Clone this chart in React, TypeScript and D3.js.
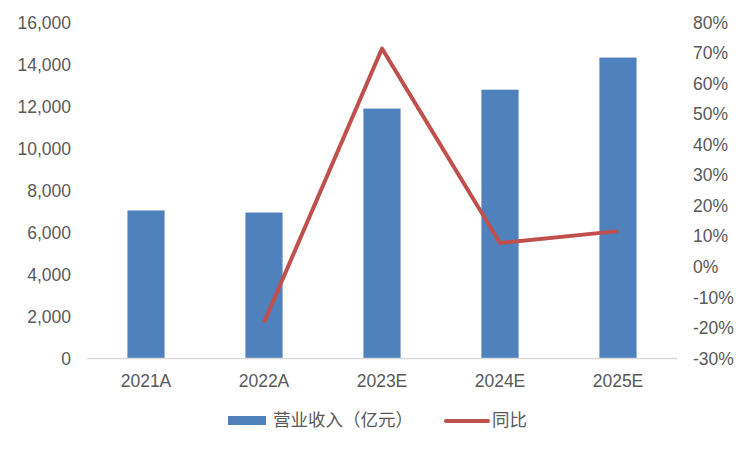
import React from "react";
import * as d3 from "d3";

const categories = ["2021A", "2022A", "2023E", "2024E", "2025E"];
const revenue = [7050, 6950, 11900, 12800, 14330];
const growth: (number | null)[] = [null, -18.2, 71.5, 7.8, 11.7];
const leftTicks = [0, 2000, 4000, 6000, 8000, 10000, 12000, 14000, 16000];
const rightTicks = [-30, -20, -10, 0, 10, 20, 30, 40, 50, 60, 70, 80];
const legendLabels = ["营业收入（亿元）", "同比"];

export default function App() {
  const W = 750, H = 450;
  const left = 87, right = 677, top = 22.5, bottom = 358.5;
  const fs = 17.5;
  const x = d3.scaleBand<string>().domain(categories).range([left, right]).paddingInner(0.685).paddingOuter(0.3425);
  const yL = d3.scaleLinear().domain([0, 16000]).range([bottom, top]);
  const yR = d3.scaleLinear().domain([-30, 80]).range([bottom, top]);
  const fmt = d3.format(",");
  const pts = categories
    .map((c, i) => ({ c, v: growth[i] }))
    .filter((d) => d.v !== null) as { c: string; v: number }[];
  const line = d3
    .line<{ c: string; v: number }>()
    .x((d) => (x(d.c) as number) + x.bandwidth() / 2)
    .y((d) => yR(d.v));
  const font = "'Liberation Sans', Arial, sans-serif";
  const cjk = "'Noto Sans CJK SC', sans-serif";
  return (
    <svg width={W} height={H} style={{ position: "absolute", left: 0, top: 0 }} fontFamily={font}>
      <rect width={W} height={H} fill="#fff" />
      {categories.map((c, i) => (
        <rect key={c} x={x(c)} y={yL(revenue[i])} width={x.bandwidth()} height={bottom - yL(revenue[i])} fill="#4F81BD" />
      ))}
      <line x1={left} x2={right} y1={bottom} y2={bottom} stroke="#D9D9D9" strokeWidth={1.5} />
      <path d={line(pts) || ""} fill="none" stroke="#C0504D" strokeWidth={4} strokeLinejoin="round" />
      {leftTicks.map((t) => (
        <text key={t} x={71} y={yL(t)} dy="0.35em" textAnchor="end" fontSize={fs} fill="#595959">
          {fmt(t)}
        </text>
      ))}
      {rightTicks.map((t) => (
        <text key={t} x={693} y={yR(t)} dy="0.35em" textAnchor="start" fontSize={fs} fill="#595959">
          {t + "%"}
        </text>
      ))}
      {categories.map((c) => (
        <text key={c} x={(x(c) as number) + x.bandwidth() / 2} y={381} dy="0.35em" textAnchor="middle" fontSize={fs} fill="#595959">
          {c}
        </text>
      ))}
      <rect x={228} y={416} width={38} height={9} fill="#4F81BD" />
      <text x={273} y={420} dy="0.35em" fontSize={fs} fill="#595959" fontFamily={cjk}>
        {legendLabels[0]}
      </text>
      <line x1={446} x2={488} y1={421} y2={421} stroke="#C0504D" strokeWidth={4} strokeLinecap="round" />
      <text x={492} y={420} dy="0.35em" fontSize={fs} fill="#595959" fontFamily={cjk}>
        {legendLabels[1]}
      </text>
    </svg>
  );
}
